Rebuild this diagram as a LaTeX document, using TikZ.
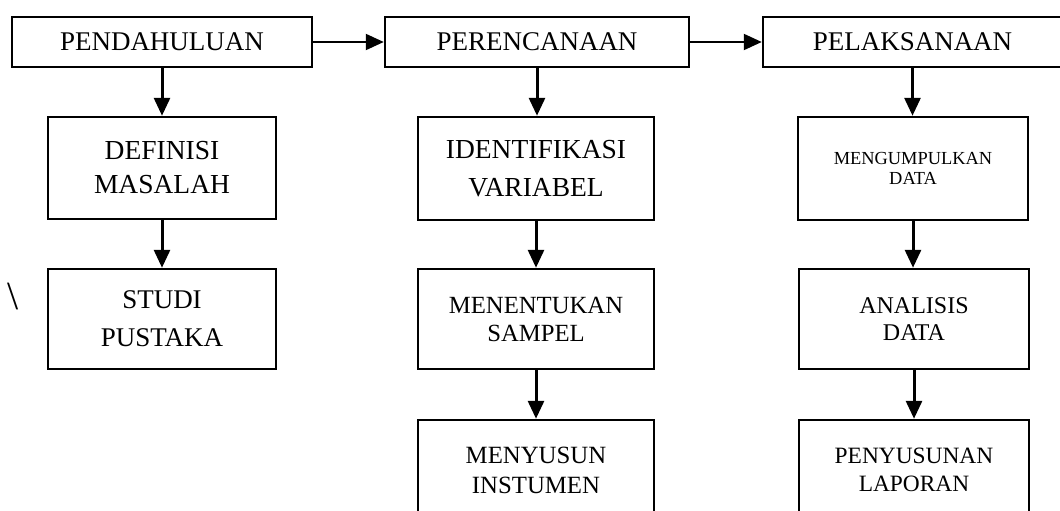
\documentclass[tikz,border=0pt]{standalone}
\usepackage{fontspec}
\setmainfont{Liberation Serif}
\usetikzlibrary{arrows.meta}
\begin{document}
\begin{tikzpicture}[x=1pt,y=-1pt,
  box/.style={draw, line width=2.5pt, inner sep=0pt, align=center, text=black},
  arr/.style={line width=3pt, -{Triangle[length=18pt,width=16pt]}},
  harr/.style={line width=2.2pt, -{Triangle[length=18pt,width=16pt]}},
  fa/.style={font=\fontsize{27}{33}\selectfont},
]
\useasboundingbox (0,0) rectangle (1060,511);
\fill[white] (0,0) rectangle (1060,511);

% top row
\node[box, fa, minimum width=300pt, minimum height=50pt] (pen) at (162,42) {PENDAHULUAN};
\node[box, fa, minimum width=304pt, minimum height=50pt] (per) at (537,42) {PERENCANAAN};
\node[box, fa, minimum width=299pt, minimum height=50pt] (pel) at (912.5,42) {PELAKSANAAN};

% column 1
\node[box, font=\fontsize{27.5}{34}\selectfont, minimum width=228pt, minimum height=102pt] (def) at (162,168) {DEFINISI\\MASALAH};
\node[box, font=\fontsize{27}{38}\selectfont, minimum width=228pt, minimum height=100pt] (stu) at (162,319) {STUDI\\PUSTAKA};

% column 2
\node[box, font=\fontsize{27.5}{38}\selectfont, minimum width=236pt, minimum height=103pt] (ide) at (536,168.5) {IDENTIFIKASI\\VARIABEL};
\node[box, font=\fontsize{24.7}{28}\selectfont, minimum width=236pt, minimum height=100pt] (men) at (536,319) {MENENTUKAN\\SAMPEL};
\node[box, font=\fontsize{24.8}{30}\selectfont, minimum width=236pt, minimum height=100pt] (mny) at (536,470) {MENYUSUN\\INSTUMEN};

% column 3
\node[box, font=\fontsize{18.4}{20}\selectfont, minimum width=230pt, minimum height=103pt] (mgp) at (913,168.5) {MENGUMPULKAN\\DATA};
\node[box, font=\fontsize{24}{27}\selectfont, minimum width=230pt, minimum height=100pt] (ana) at (914,319) {ANALISIS\\DATA};
\node[box, font=\fontsize{23.4}{28}\selectfont, minimum width=230pt, minimum height=100pt] (pny) at (914,470) {PENYUSUNAN\\LAPORAN};

% stray mark
\node[font=\fontsize{40}{40}\selectfont, inner sep=0pt] (bs) at (13,297) {\textbackslash};

% connectors
\draw[harr] (pen.east) -- (per.west);
\draw[harr] (per.east) -- (pel.west);
\draw[arr] (pen.south) -- (def.north);
\draw[arr] (def.south) -- (stu.north);
\draw[arr] (per.south) -- (per.south |- ide.north);
\draw[arr] (ide.south) -- (men.north);
\draw[arr] (men.south) -- (mny.north);
\draw[arr] (pel.south) -- (pel.south |- mgp.north);
\draw[arr] (mgp.south) -- (mgp.south |- ana.north);
\draw[arr] (ana.south) -- (pny.north);
\end{tikzpicture}
\end{document}
